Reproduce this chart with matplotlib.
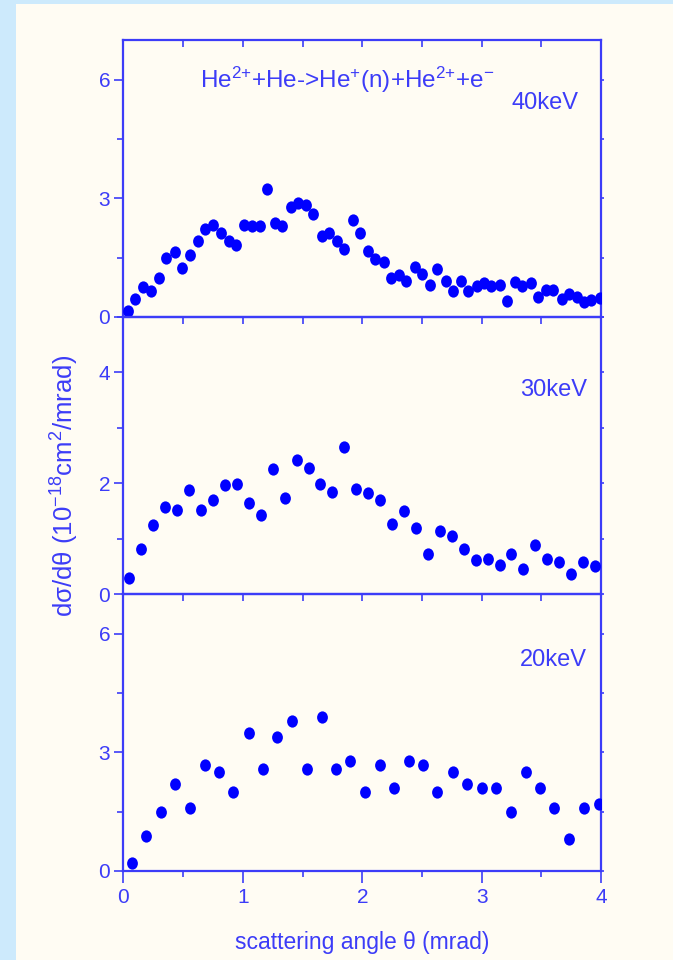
import numpy as np
import matplotlib
matplotlib.use("Agg")
from matplotlib import pyplot as plt
from matplotlib.path import Path
from matplotlib.patches import Rectangle
from matplotlib.ticker import MultipleLocator

plt.rcParams['font.family'] = ['Liberation Sans', 'DejaVu Sans']
plt.rcParams['mathtext.fontset'] = 'custom'
plt.rcParams['mathtext.rm'] = 'Liberation Sans'
plt.rcParams['mathtext.it'] = 'Liberation Sans:italic'
plt.rcParams['mathtext.bf'] = 'Liberation Sans:bold'

# 40 keV
x40 = [0.04, 0.10, 0.165, 0.23, 0.30, 0.36, 0.43, 0.49, 0.555, 0.62, 0.68, 0.75,
       0.815, 0.88, 0.94, 1.01, 1.075, 1.14, 1.20, 1.27, 1.33, 1.40, 1.46, 1.53,
       1.59, 1.66, 1.72, 1.79, 1.85, 1.92, 1.98, 2.05, 2.11, 2.18, 2.24, 2.31,
       2.37, 2.44, 2.50, 2.57, 2.63, 2.70, 2.76, 2.83, 2.89, 2.96, 3.02, 3.08,
       3.15, 3.21, 3.28, 3.34, 3.41, 3.47, 3.54, 3.60, 3.67, 3.73, 3.80, 3.86,
       3.92, 3.99]
y40 = [0.15, 0.45, 0.77, 0.65, 0.99, 1.49, 1.64, 1.25, 1.56, 1.92, 2.22, 2.33,
       2.12, 1.91, 1.82, 2.33, 2.31, 2.31, 3.23, 2.37, 2.31, 2.79, 2.89, 2.83,
       2.60, 2.05, 2.13, 1.91, 1.73, 2.45, 2.13, 1.68, 1.46, 1.39, 0.99, 1.06,
       0.90, 1.27, 1.08, 0.81, 1.21, 0.91, 0.65, 0.91, 0.65, 0.78, 0.85, 0.78,
       0.81, 0.41, 0.88, 0.78, 0.85, 0.51, 0.68, 0.67, 0.45, 0.57, 0.50, 0.39,
       0.43, 0.49]

# 30 keV
x30 = [0.05, 0.15, 0.25, 0.35, 0.45, 0.55, 0.65, 0.75, 0.85, 0.95, 1.05, 1.15,
       1.25, 1.35, 1.45, 1.55, 1.65, 1.75, 1.85, 1.95, 2.05, 2.15, 2.25, 2.35,
       2.45, 2.55, 2.65, 2.75, 2.85, 2.95, 3.05, 3.15, 3.25, 3.35, 3.45, 3.55,
       3.65, 3.75, 3.85, 3.95]
y30 = [0.28, 0.81, 1.25, 1.57, 1.51, 1.87, 1.51, 1.69, 1.96, 1.98, 1.64, 1.42,
       2.26, 1.73, 2.41, 2.28, 1.98, 1.84, 2.66, 1.90, 1.83, 1.69, 1.26, 1.49,
       1.20, 0.73, 1.13, 1.04, 0.81, 0.62, 0.64, 0.52, 0.73, 0.45, 0.89, 0.64,
       0.57, 0.36, 0.57, 0.51]

# 20 keV
x20 = [0.07, 0.19, 0.31, 0.435, 0.56, 0.68, 0.80, 0.92, 1.05, 1.17, 1.29, 1.41,
       1.535, 1.66, 1.78, 1.90, 2.02, 2.15, 2.27, 2.39, 2.51, 2.63, 2.76, 2.88,
       3.00, 3.12, 3.25, 3.37, 3.49, 3.61, 3.73, 3.855, 3.98]
y20 = [0.21, 0.89, 1.50, 2.19, 1.58, 2.69, 2.49, 2.00, 3.48, 2.59, 3.39, 3.78,
       2.59, 3.88, 2.59, 2.78, 2.00, 2.69, 2.09, 2.78, 2.69, 2.00, 2.49, 2.19,
       2.09, 2.09, 1.50, 2.49, 2.09, 1.58, 0.80, 1.58, 1.70]

panels = [
    (x40, y40, '40keV', 7, 3, 1.5),
    (x30, y30, '30keV', 5, 2, 1),
    (x20, y20, '20keV', 7, 3, 1.5),
]
# right edge and baseline (pixels) of the energy labels
lab_pos = [(578, 109), (587, 396), (587, 666)]

axcol = '#3c3cf8'
dotcol = '#0000ff'
W, H = 673, 960

# slightly tall elliptical dot
circ = Path.unit_circle()
dot = Path(circ.vertices * np.array([0.88, 1.0]), circ.codes)

fig = plt.figure(figsize=(W / 100, H / 100), dpi=100, facecolor='#cdeafc')
fig.patches.append(Rectangle((16 / W, 0), 1 - 16 / W, 1 - 4 / H,
                             transform=fig.transFigure, facecolor='#fffcf3',
                             edgecolor='none', zorder=-5))

left, right = 123.5, 601
tops = [40, 317, 594]
ph = 277
axes = []
for i, (xs, ys, lab, ymax, major, minor) in enumerate(panels):
    top = tops[i]
    ax = fig.add_axes([left / W, (H - top - ph) / H, (right - left) / W, ph / H])
    ax.set_facecolor('none')
    ax.scatter(xs, ys, marker=dot, s=78, color=dotcol, linewidths=0, zorder=3)
    ax.set_xlim(0, 4)
    ax.set_ylim(0, ymax)
    ax.xaxis.set_major_locator(MultipleLocator(1))
    ax.xaxis.set_minor_locator(MultipleLocator(0.5))
    ax.yaxis.set_major_locator(MultipleLocator(major))
    ax.yaxis.set_minor_locator(MultipleLocator(minor))
    for s in ax.spines.values():
        s.set_color(axcol)
        s.set_linewidth(1.6)
    last = i == len(panels) - 1
    ax.tick_params(axis='x', which='both', top=False, bottom=last,
                   labelbottom=last, direction='out', color=axcol,
                   labelcolor=axcol, labelsize=15, width=1.2, pad=4)
    ax.tick_params(axis='x', which='major', length=8.5)
    ax.tick_params(axis='x', which='minor', length=4.5)
    ax.tick_params(axis='y', which='both', direction='out', color=axcol,
                   labelcolor=axcol, labelsize=15, width=1.2, pad=3)
    ax.tick_params(axis='y', which='major', length=6.5)
    ax.tick_params(axis='y', which='minor', length=4)

    # ticks on the top spine point inwards, on the right spine outwards
    sx = ax.secondary_xaxis('top')
    sx.xaxis.set_major_locator(MultipleLocator(0.5))
    sx.tick_params(direction='in', length=5, width=1.2, color=axcol,
                   labeltop=False)
    sx.spines['top'].set_visible(False)
    sy = ax.secondary_yaxis('right')
    sy.yaxis.set_major_locator(MultipleLocator(minor))
    sy.tick_params(direction='out', length=2.5, width=1.2, color=axcol,
                   labelright=False)
    sy.spines['right'].set_visible(False)

    lx, ly = lab_pos[i]
    ax.text(1 - (right - lx) / (right - left), 1 - (ly - top) / ph, lab,
            transform=ax.transAxes, ha='right', va='baseline', fontsize=17,
            color=axcol)
    axes.append(ax)

axes[0].text(0.5 - (362 - 347) / (right - left), 1 - (88 - 40) / ph,
             r'He$^{2{+}}$+He->He$^{{+}}$(n)+He$^{2{+}}$+e$^{{-}}$',
             transform=axes[0].transAxes, ha='center', va='baseline',
             fontsize=17.5, color=axcol)

fig.text(65 / W, 1 - 486 / H, 'dσ/dθ (10$^{-18}$cm$^{2}$/mrad)',
         rotation=90, ha='center', va='center', fontsize=18.5, color=axcol)
fig.text(362 / W, 1 - 942 / H, 'scattering angle θ (mrad)',
         ha='center', va='center', fontsize=16.5, color=axcol)

fig.savefig('out.png', dpi=100, facecolor=fig.get_facecolor())
